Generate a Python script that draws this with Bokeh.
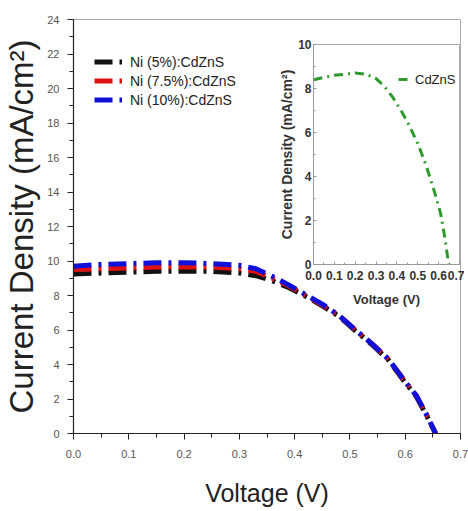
from bokeh.plotting import figure
from bokeh.models import (Legend, LegendItem, FixedTicker, NumeralTickFormatter)
from bokeh.layouts import column
from bokeh.embed import file_html
from bokeh.resources import INLINE

# ---------------- data ----------------
voltage = [0.0, 0.05, 0.10, 0.15, 0.20, 0.25, 0.30, 0.33, 0.36, 0.39, 0.42, 0.45,
           0.48, 0.51, 0.54, 0.57, 0.60, 0.62, 0.64, 0.655]
j_ni5 = [9.25, 9.30, 9.35, 9.40, 9.40, 9.40, 9.30, 9.15, 8.85, 8.45, 7.95, 7.40,
         6.80, 5.95, 5.15, 4.25, 2.95, 2.15, 0.95, 0.0]
j_ni75 = [9.50, 9.55, 9.60, 9.65, 9.65, 9.65, 9.55, 9.40, 9.00, 8.55, 8.00, 7.45,
          6.85, 6.00, 5.20, 4.30, 3.00, 2.20, 1.00, 0.0]
j_ni10 = [9.70, 9.80, 9.85, 9.90, 9.90, 9.85, 9.75, 9.55, 9.10, 8.60, 8.05, 7.50,
          6.85, 6.00, 5.20, 4.30, 3.00, 2.20, 1.00, 0.0]
series_names = ["Ni (5%):CdZnS", "Ni (7.5%):CdZnS", "Ni (10%):CdZnS"]
series_colors = ["#111111", "#e01010", "#1010d8"]

inset_voltage = [0.0, 0.05, 0.10, 0.15, 0.20, 0.25, 0.30, 0.34, 0.38, 0.42, 0.46,
                 0.50, 0.54, 0.58, 0.61, 0.63, 0.645, 0.65]
inset_j = [8.40, 8.50, 8.60, 8.65, 8.70, 8.65, 8.45, 8.10, 7.60, 7.00, 6.30,
           5.50, 4.50, 3.30, 2.30, 1.20, 0.20, 0.0]
inset_name = "CdZnS"

v_ticks = [0.0, 0.1, 0.2, 0.3, 0.4, 0.5, 0.6, 0.7]
v_minor = [0.05, 0.15, 0.25, 0.35, 0.45, 0.55, 0.65]
j_ticks = [0, 2, 4, 6, 8, 10, 12, 14, 16, 18, 20, 22, 24]
j_minor = [1, 3, 5, 7, 9, 11, 13, 15, 17, 19, 21, 23]
inset_j_ticks = [0, 2, 4, 6, 8, 10]
inset_j_minor = [1, 3, 5, 7, 9]

FONT = "Liberation Sans"

# ---------------- main figure ----------------
p = figure(x_range=(0, 0.7), y_range=(0, 24),
           frame_width=387, frame_height=414,
           min_border_left=63, min_border_right=10, min_border_top=19, min_border_bottom=67,
           output_backend="svg", toolbar_location=None)
p.background_fill_color = None
p.border_fill_color = None
p.outline_line_color = "#aaaaaa"
p.grid.visible = False

renderers = []
for ys, col in zip([j_ni5, j_ni75, j_ni10], series_colors):
    r = p.line(voltage, ys, line_color=col, line_width=5, line_dash="18 7 3 7")
    renderers.append(r)

p.xaxis.ticker = FixedTicker(ticks=v_ticks, minor_ticks=v_minor)
p.xaxis.formatter = NumeralTickFormatter(format="0.0")
p.yaxis.ticker = FixedTicker(ticks=j_ticks, minor_ticks=j_minor)
for ax in (p.xaxis[0], p.yaxis[0]):
    ax.axis_line_color = "#222222"
    ax.axis_line_width = 1.2
    ax.major_tick_line_color = "#222222"
    ax.minor_tick_line_color = "#222222"
    ax.major_tick_out = 6
    ax.major_tick_in = 0
    ax.minor_tick_out = 4
    ax.minor_tick_in = 0
    ax.major_label_text_font = FONT
    ax.major_label_text_font_size = "11px"
    ax.major_label_text_color = "#555555"
    ax.axis_label_text_font = FONT
    ax.axis_label_text_font_style = "normal"
    ax.axis_label_text_color = "#222222"
p.xaxis.axis_label = "Voltage (V)"
p.xaxis.axis_label_text_font_size = "25px"
p.xaxis.major_label_standoff = 10
p.xaxis.axis_label_standoff = 18
p.yaxis.axis_label = "Current Density (mA/cm²)"
p.yaxis.axis_label_text_font_size = "33px"
p.yaxis.major_label_standoff = 8
p.yaxis.axis_label_standoff = 4

legend = Legend(items=[LegendItem(label=n, renderers=[r]) for n, r in zip(series_names, renderers)],
                location=(21, 324), padding=0, spacing=0, glyph_width=28, glyph_height=19,
                label_height=19, label_standoff=8, label_text_font=FONT,
                label_text_font_size="14px", label_text_color="#222222",
                background_fill_alpha=0, border_line_alpha=0)
p.add_layout(legend)

# ---------------- inset figure ----------------
q = figure(x_range=(0, 0.7), y_range=(0, 10),
           frame_width=146, frame_height=220,
           min_border_left=72, min_border_right=6, min_border_top=8, min_border_bottom=52,
           output_backend="svg", toolbar_location=None)
q.background_fill_color = None
q.border_fill_color = None
q.outline_line_color = "#aaaaaa"
q.grid.visible = False
gr = q.line(inset_voltage, inset_j, line_color="#2e9a2e", line_width=3, line_dash="9 5 2 5")
q.xaxis.ticker = FixedTicker(ticks=v_ticks, minor_ticks=v_minor)
q.xaxis.formatter = NumeralTickFormatter(format="0.0")
q.yaxis.ticker = FixedTicker(ticks=inset_j_ticks, minor_ticks=inset_j_minor)
for ax in (q.xaxis[0], q.yaxis[0]):
    ax.axis_line_color = "#999999"
    ax.major_tick_line_color = "#999999"
    ax.minor_tick_line_color = "#999999"
    ax.major_tick_out = 0
    ax.major_tick_in = 3
    ax.minor_tick_out = 0
    ax.minor_tick_in = 2
    ax.major_label_text_font = FONT
    ax.major_label_text_font_style = "bold"
    ax.major_label_text_font_size = "12px"
    ax.major_label_text_color = "#333333"
    ax.axis_label_text_font = FONT
    ax.axis_label_text_font_style = "bold"
    ax.axis_label_text_color = "#333333"
q.xaxis.major_label_standoff = 6
q.xaxis.axis_label_standoff = 9
q.yaxis.major_label_standoff = 2
q.yaxis.axis_label_standoff = 0
q.xaxis.axis_label = "Voltage (V)"
q.xaxis.axis_label_text_font_size = "13px"
q.yaxis.axis_label = "Current Density (mA/cm²)"
q.yaxis.axis_label_text_font_size = "14px"

inset_legend = Legend(items=[LegendItem(label=inset_name, renderers=[gr])],
                      location=(85, 177), padding=0, glyph_width=14, glyph_height=16,
                      label_height=16, label_standoff=3, label_text_font=FONT,
                      label_text_font_size="13px", label_text_color="#222222",
                      background_fill_alpha=0, border_line_alpha=0)
q.add_layout(inset_legend)
q.margin = (-473, 0, 193, 240)

layout = column(p, q)

open("out.html", "w").write(file_html(layout, INLINE))
